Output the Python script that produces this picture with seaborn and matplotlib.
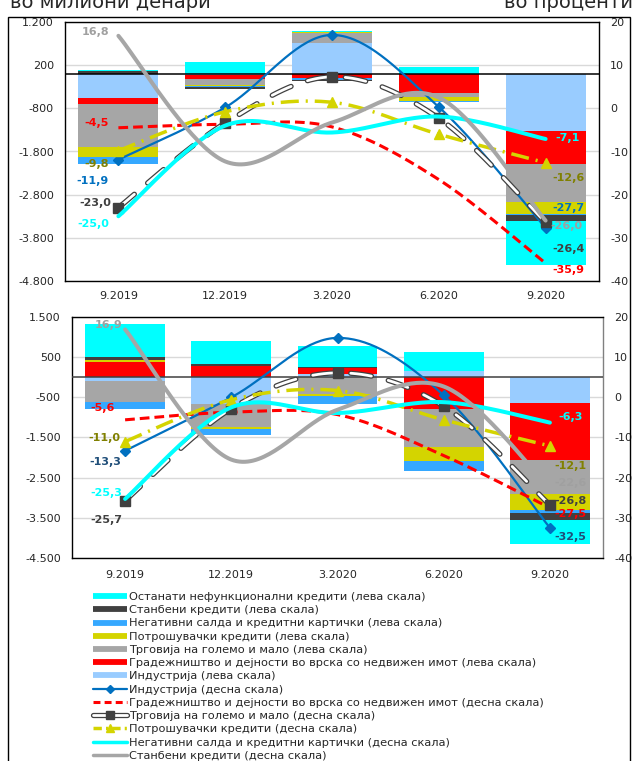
import numpy as np
import matplotlib
matplotlib.use("Agg")
import matplotlib.pyplot as plt
from matplotlib.lines import Line2D
from matplotlib.patches import Rectangle
from matplotlib.legend_handler import HandlerTuple
import seaborn as sns

sns.set_style("white")
plt.rcParams["font.family"] = ["DejaVu Sans"]
plt.rcParams["lines.scale_dashes"] = False

# ---------------------------------------------------------------- data
periods = ["9.2019", "12.2019", "3.2020", "6.2020", "9.2020"]

# upper panel, change in millions of denars (left scale)
top_industry = [-555, -20, 708, 0, -1332]
top_construction = [-139, -92, -92, -440, -762]
top_trade = [-1000, -150, 238, -100, -885]
top_consumer = [-231, -20, 30, -100, -270]
top_overdraft = [-170, -15, -46, -20, -30]
top_housing = [70, -55, -20, 0, -123]
top_other = [25, 270, 23, 165, -1024]

# upper panel, percent (right scale)
top_industry_pct = [-11.9, 0.2, 17.0, 0.3, -27.7]
top_construction_pct = [-4.5, -3.7, -4.3, -16.5, -35.9]
top_trade_pct = [-23.0, -3.4, 7.3, -2.3, -26.4]
top_consumer_pct = [-9.8, -0.8, 1.4, -6.0, -12.6]
top_overdraft_pct = [-25.0, -4.0, -5.6, -1.9, -7.1]
top_housing_pct = [16.8, -12.3, -3.3, 2.5, -26.0]

# lower panel, change in millions of denars (left scale)
bot_industry = [-92, -672, 83, 158, -633]
bot_construction = [392, 282, 141, -785, -1433]
bot_trade = [-517, -556, -407, -963, -850]
bot_consumer = [42, -58, -60, -347, -382]
bot_overdraft = [-175, -141, -191, -233, -85]
bot_housing = [67, 50, 20, 0, -183]
bot_other = [833, 573, 540, 473, -582]

# lower panel, percent (right scale)
bot_industry_pct = [-13.3, 0.0, 14.8, 0.5, -32.5]
bot_construction_pct = [-5.6, -3.7, -4.3, -14.5, -27.5]
bot_trade_pct = [-25.7, -2.8, 6.1, -2.2, -26.8]
bot_consumer_pct = [-11.0, -0.6, 1.7, -5.6, -12.1]
bot_overdraft_pct = [-25.3, -2.5, -3.9, -1.2, -6.3]
bot_housing_pct = [16.9, -15.5, -3.1, 2.7, -22.6]

top_left_ticks = [-4800, -3800, -2800, -1800, -800, 200, 1200]
bot_left_ticks = [-4500, -3500, -2500, -1500, -500, 500, 1500]
right_ticks = [-40, -30, -20, -10, 0, 10, 20]

bar_labels = {
    "other": "Останати нефункционални кредити (лева скала)",
    "housing": "Станбени кредити (лева скала)",
    "overdraft": "Негативни салда и кредитни картички (лева скала)",
    "consumer": "Потрошувачки кредити (лева скала)",
    "trade": "Трговија на големо и мало (лева скала)",
    "construction": "Градежништво и дејности во врска со недвижен имот (лева скала)",
    "industry": "Индустрија (лева скала)",
}
line_labels = {
    "industry": "Индустрија (десна скала)",
    "construction": "Градежништво и дејности во врска со недвижен имот (десна скала)",
    "trade": "Трговија на големо и мало (десна скала)",
    "consumer": "Потрошувачки кредити (десна скала)",
    "overdraft": "Негативни салда и кредитни картички (десна скала)",
    "housing": "Станбени кредити (десна скала)",
}

# ---------------------------------------------------------------- styles
stack_order = ["industry", "construction", "trade", "consumer",
               "overdraft", "housing", "other"]
bar_colors = {
    "industry": "#99CCFF", "construction": "#FF0000", "trade": "#A6A6A6",
    "consumer": "#D4D400", "overdraft": "#35A8FF", "housing": "#404040",
    "other": "#00FFFF",
}
line_order = ["industry", "construction", "trade", "consumer", "overdraft", "housing"]
BLUE, RED, DARK, OLIVE_LINE, CYAN, GRAY = ("#0070C0", "#FF0000", "#404040",
                                           "#D4D400", "#00FFFF", "#A6A6A6")
RED_DASH = (0, (7, 3.6))
TRADE_DASH = (0, (15, 12.5))
CONS_DASH = (0, (13, 5, 1.5, 5))

W, H = 634, 761


def smooth_path(xs, ys, n=40):
    """Cubic Bezier path through the points (Catmull-Rom style tangents)."""
    p = np.column_stack([xs, ys]).astype(float)
    t = np.linspace(0, 1, n)[:, None]
    segs = []
    for i in range(len(p) - 1):
        p0 = p[max(i - 1, 0)]
        p1, p2 = p[i], p[i + 1]
        p3 = p[min(i + 2, len(p) - 1)]
        c1 = p1 + (p2 - p0) / 6.0
        c2 = p2 - (p3 - p1) / 6.0
        seg = ((1 - t) ** 3) * p1 + 3 * ((1 - t) ** 2) * t * c1 \
            + 3 * (1 - t) * t ** 2 * c2 + t ** 3 * p2
        segs.append(seg if i == 0 else seg[1:])
    return np.vstack(segs)


def fmt_thousands(v):
    return f"{v:,}".replace(",", ".")


def fmt_pct(v):
    return f"{v:.1f}".replace(".", ",")


def draw_panel(rect, stacks, pcts, left_lim, left_ticks, labels, zero_color,
               right_spine, xpad, label_colors):
    ax = fig.add_axes(rect)
    xpos = np.arange(len(periods))
    pos = np.zeros(len(periods))
    neg = np.zeros(len(periods))
    for key in stack_order:
        vals = np.asarray(stacks[key], dtype=float)
        base = np.where(vals >= 0, pos, neg)
        sns.barplot(x=xpos, y=vals, bottom=base, native_scale=True, width=0.75,
                    color=bar_colors[key], saturation=1, linewidth=0,
                    errorbar=None, ax=ax, zorder=2)
        pos += np.clip(vals, 0, None)
        neg += np.clip(vals, None, 0)

    ax.set_xlim(-0.5, len(periods) - 0.5)
    ax.set_ylim(*left_lim)
    ax.set_yticks(left_ticks)
    ax.set_yticklabels([fmt_thousands(v) for v in left_ticks])
    ax.set_xticks(xpos)
    ax.set_xticklabels(periods)
    ax.set_xlabel("")
    ax.set_ylabel("")
    ax.set_axisbelow(True)
    ax.yaxis.grid(True, color="#D9D9D9", lw=1)
    ax.xaxis.grid(False)
    ax.axhline(0, color=zero_color, lw=1.1, zorder=3)
    ax.tick_params(axis="y", length=0, pad=8, labelsize=8)
    ax.tick_params(axis="x", length=0, pad=xpad, labelsize=8)
    for name, sp in ax.spines.items():
        sp.set_visible(True)
        sp.set_color("black")
        sp.set_linewidth(1)
    ax.spines["right"].set_color(right_spine)

    ax2 = ax.twinx()
    ax2.set_ylim(-40, 20)
    ax2.set_yticks(right_ticks)
    ax2.set_yticklabels([str(v) for v in right_ticks])
    ax2.tick_params(axis="y", length=0, pad=8, labelsize=8)
    for sp in ax2.spines.values():
        sp.set_visible(False)

    for key in line_order:
        vals = pcts[key]
        c = smooth_path(xpos, vals)
        if key == "industry":
            ax2.plot(c[:, 0], c[:, 1], color=BLUE, lw=1.6, zorder=4)
            ax2.plot(xpos, vals, ls="none", marker="D", ms=5.5, color=BLUE,
                     zorder=4)
        elif key == "construction":
            ax2.plot(c[:, 0], c[:, 1], color=RED, lw=2.2, linestyle=RED_DASH,
                     dash_capstyle="butt", zorder=4)
        elif key == "trade":
            ax2.plot(c[:, 0], c[:, 1], color=DARK, lw=3.8, linestyle=TRADE_DASH,
                     dash_capstyle="round", zorder=4)
            ax2.plot(c[:, 0], c[:, 1], color="white", lw=2.0, linestyle=TRADE_DASH,
                     dash_capstyle="round", zorder=4)
            ax2.plot(xpos, vals, ls="none", marker="s", ms=7.5, color=DARK,
                     zorder=4)
        elif key == "consumer":
            ax2.plot(c[:, 0], c[:, 1], color=OLIVE_LINE, lw=2.5,
                     linestyle=CONS_DASH, zorder=4)
            ax2.plot(xpos, vals, ls="none", marker="^", ms=7.5,
                     color=OLIVE_LINE, zorder=4)
        elif key == "overdraft":
            ax2.plot(c[:, 0], c[:, 1], color=CYAN, lw=2.9,
                     solid_capstyle="round", zorder=4)
        elif key == "housing":
            ax2.plot(c[:, 0], c[:, 1], color=GRAY, lw=2.9,
                     solid_capstyle="round", zorder=4)

    for key, idx, dx, dy in labels:
        v = pcts[key][idx]
        ax2.annotate(fmt_pct(v), (xpos[idx], v), xytext=(dx, dy),
                     textcoords="offset pixels", ha="right" if dx < 0 else "left",
                     va="center", fontsize=8, fontweight="bold",
                     color=label_colors[key], zorder=6, annotation_clip=False)
    return ax, ax2


fig = plt.figure(figsize=(W / 100, H / 100), dpi=100)

top_stacks = dict(industry=top_industry, construction=top_construction,
                  trade=top_trade, consumer=top_consumer, overdraft=top_overdraft,
                  housing=top_housing, other=top_other)
top_pcts = dict(industry=top_industry_pct, construction=top_construction_pct,
                trade=top_trade_pct, consumer=top_consumer_pct,
                overdraft=top_overdraft_pct, housing=top_housing_pct)
bot_stacks = dict(industry=bot_industry, construction=bot_construction,
                  trade=bot_trade, consumer=bot_consumer, overdraft=bot_overdraft,
                  housing=bot_housing, other=bot_other)
bot_pcts = dict(industry=bot_industry_pct, construction=bot_construction_pct,
                trade=bot_trade_pct, consumer=bot_consumer_pct,
                overdraft=bot_overdraft_pct, housing=bot_housing_pct)

top_label_pos = [
    ("housing", 0, -9, 4), ("construction", 0, -10, 5), ("consumer", 0, -10, -13),
    ("industry", 0, -10, -21), ("trade", 0, -7, 5), ("overdraft", 0, -9, -8),
    ("overdraft", 4, 10, 1), ("consumer", 4, 7, -15), ("industry", 4, 7, 20),
    ("housing", 4, 5, -5), ("trade", 4, 7, -27), ("construction", 4, 7, -7),
]
bot_label_pos = [
    ("housing", 0, -3, 4), ("construction", 0, -10, 12), ("consumer", 0, -5, 4),
    ("industry", 0, -4, -11), ("overdraft", 0, -3, 6), ("trade", 0, -3, -19),
    ("overdraft", 4, 8, 6), ("consumer", 4, 4, -20), ("housing", 4, 4, 5),
    ("trade", 4, 4, 4), ("construction", 4, 4, -6), ("industry", 4, 4, -9),
]
top_label_colors = dict(industry="#0070C0", construction="#FF0000",
                        trade="#404040", consumer="#808000",
                        overdraft="#00FFFF", housing="#A0A0A0")
bot_label_colors = dict(industry="#1F4E79", construction="#FF0000",
                        trade="#404040", consumer="#808000",
                        overdraft="#00FFFF", housing="#A0A0A0")

draw_panel([65 / W, 1 - 281 / H, (599 - 65) / W, (281 - 22) / H],
           top_stacks, top_pcts, (-4800, 1200), top_left_ticks, top_label_pos,
           "black", "black", 7, top_label_colors)
draw_panel([72 / W, 1 - 558 / H, (603 - 72) / W, (558 - 317) / H],
           bot_stacks, bot_pcts, (-4500, 1500), bot_left_ticks, bot_label_pos,
           "#404040", "#808080", 8.5, bot_label_colors)

# ---------------------------------------------------------------- legend
handles, labels = [], []
for key in ["other", "housing", "overdraft", "consumer", "trade",
            "construction", "industry"]:
    handles.append(Line2D([], [], color=bar_colors[key], lw=4.2,
                          solid_capstyle="butt"))
    labels.append(bar_labels[key])
handles.append(Line2D([], [], color=BLUE, lw=1.6, marker="D", ms=4))
labels.append(line_labels["industry"])
handles.append(Line2D([], [], color=RED, lw=2.2, linestyle=(0, (5, 3))))
labels.append(line_labels["construction"])
handles.append((Line2D([], [], color=DARK, lw=3.8),
                Line2D([], [], color="white", lw=2.0),
                Line2D([], [], ls="none", marker="s", ms=6, color=DARK)))
labels.append(line_labels["trade"])
handles.append(Line2D([], [], color=OLIVE_LINE, lw=2.5, linestyle=(0, (6, 3, 1.5, 3)),
                      marker="^", ms=6))
labels.append(line_labels["consumer"])
handles.append(Line2D([], [], color=CYAN, lw=2.5))
labels.append(line_labels["overdraft"])
handles.append(Line2D([], [], color=GRAY, lw=2.5))
labels.append(line_labels["housing"])

fig.legend(handles, labels, loc="upper left",
           bbox_to_anchor=(93 / W, 1 - 592 / H), bbox_transform=fig.transFigure,
           frameon=False, fontsize=8.2, handlelength=2.95, handletextpad=0.25,
           labelspacing=0.285, borderpad=0, borderaxespad=0, numpoints=1,
           handler_map={tuple: HandlerTuple(ndivide=1)})

# ---------------------------------------------------------------- frame & headers
fig.add_artist(Rectangle((8 / W, -0.05), 622 / W, 1 - 17 / H + 0.05,
                         transform=fig.transFigure, fill=False,
                         edgecolor="black", lw=1))
fig.text(10 / W, 1 - 8 / H, "во милиони денари", fontsize=14, ha="left",
         va="baseline")
fig.text(633 / W, 1 - 8 / H, "во проценти", fontsize=14, ha="right",
         va="baseline")

fig.savefig("out.png", dpi=100)
